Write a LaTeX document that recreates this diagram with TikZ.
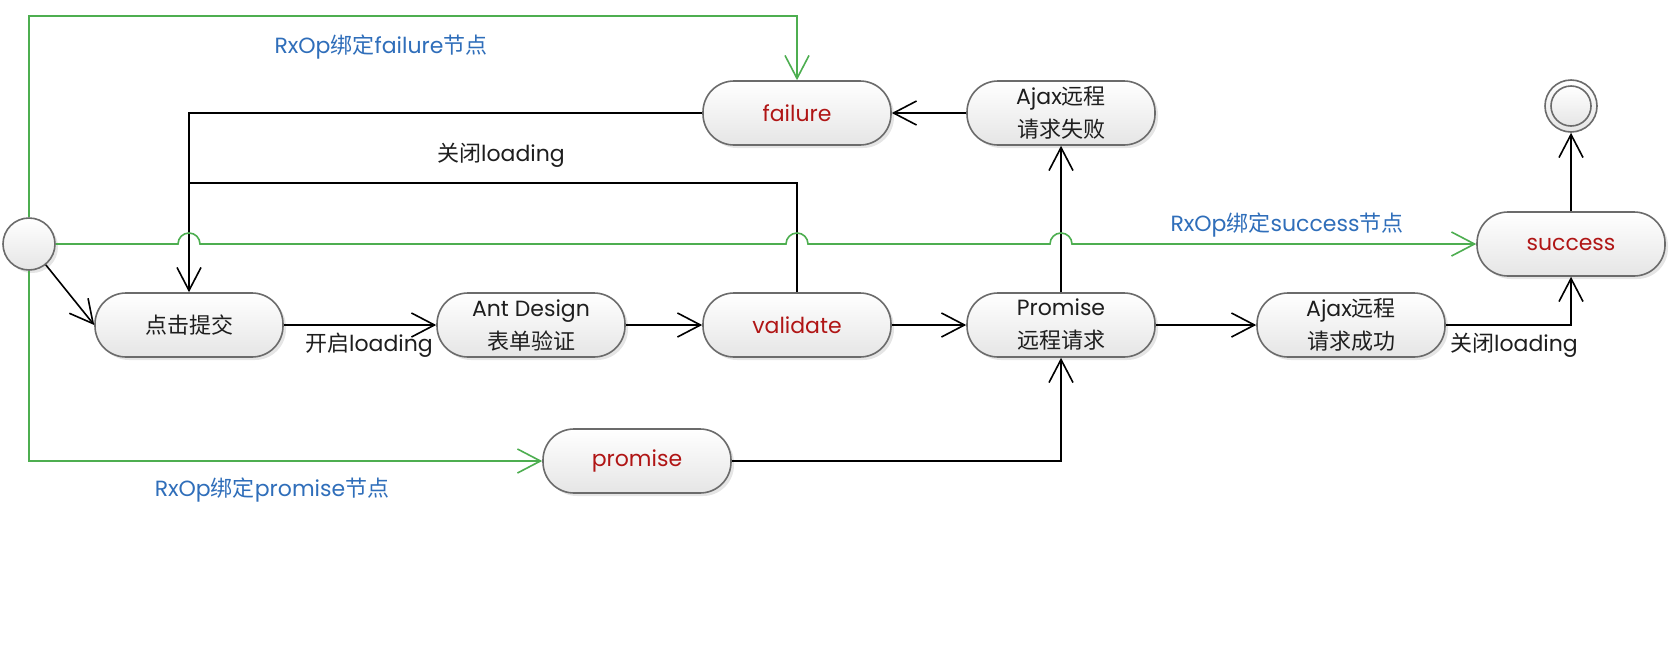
\documentclass[tikz,border=0pt]{standalone}
\usepackage{fontspec}
\setmainfont{Poppins}
\newfontfamily\cjk{Noto Sans CJK SC}
\usetikzlibrary{arrows.meta,shadows,calc}
\definecolor{gline}{HTML}{4DAE50}
\definecolor{btxt}{HTML}{2F6EBA}
\definecolor{rtxt}{HTML}{B01515}
\definecolor{nstroke}{HTML}{6B6B6B}
\definecolor{ktxt}{HTML}{1E1E1E}
\tikzset{
  statebox/.style={draw=nstroke, line width=1.6pt, rounded corners=31pt,
    minimum width=188pt, minimum height=64pt, top color=white, bottom color=black!10,
    drop shadow={shadow xshift=3pt, shadow yshift=-3pt, opacity=0.10, fill=black},
    align=center, inner sep=0pt, text=ktxt},
  redtxt/.style={text=rtxt},
  bluelbl/.style={text=btxt, inner sep=1pt},
  blacklbl/.style={text=ktxt, inner sep=1pt},
  conn/.style={draw=black, line width=1.6pt, -{Straight Barb[length=23pt,width=24pt]}},
  plainline/.style={draw=black, line width=1.6pt},
  gconn/.style={draw=gline, line width=1.6pt, -{Straight Barb[length=23pt,width=24pt]}},
  roundstate/.style={circle, draw=nstroke, line width=1.6pt, top color=white, bottom color=black!10, inner sep=0pt}
}
\begin{document}
\begin{tikzpicture}[x=1pt,y=1pt,font=\fontsize{22}{33}\selectfont]
\useasboundingbox[fill=white] (0,0) rectangle (1672,-664);

% nodes
\node[roundstate, minimum size=52pt, drop shadow={shadow xshift=3pt, shadow yshift=-3pt, opacity=0.10, fill=black}] (start) at (29,-244) {};
\node[statebox] (click) at (189,-325) {{\cjk 点击提交}};
\node[statebox] (ant) at (531,-325) {Ant Design\\{\cjk 表单验证}};
\node[statebox, redtxt] (validate) at (797,-325) {validate};
\node[statebox] (promreq) at (1061,-325) {Promise\\{\cjk 远程请求}};
\node[statebox] (ajaxok) at (1351,-325) {Ajax{\cjk 远程}\\{\cjk 请求成功}};
\node[statebox, redtxt] (failure) at (797,-113) {failure};
\node[statebox] (ajaxfail) at (1061,-113) {Ajax{\cjk 远程}\\{\cjk 请求失败}};
\node[statebox, redtxt] (success) at (1571,-244) {success};
\node[statebox, redtxt] (promise) at (637,-461) {promise};
\node[roundstate, minimum size=52pt] (endo) at (1571,-106) {};
\node[roundstate, minimum size=40pt] (endi) at (1571,-106) {};

% labels
\node[bluelbl] (lfail) at (381,-47) {RxOp{\cjk 绑定}failure{\cjk 节点}};
\node[blacklbl] (lclose1) at (501,-155) {{\cjk 关闭}loading};
\node[blacklbl] (lopen) at (369,-345) {{\cjk 开启}loading};
\node[bluelbl] (lsucc) at (1287,-225) {RxOp{\cjk 绑定}success{\cjk 节点}};
\node[blacklbl] (lclose2) at (1514,-345) {{\cjk 关闭}loading};
\node[bluelbl] (lprom) at (272,-490) {RxOp{\cjk 绑定}promise{\cjk 节点}};

\coordinate (joinpt) at (189,-183);

% black connectors
\draw[conn] (start) -- (click.west);
\draw[conn] (click) -- (ant);
\draw[conn] (ant) -- (validate);
\draw[conn] (validate) -- (promreq);
\draw[conn] (promreq) -- (ajaxok);
\draw[conn] (ajaxok.east) -| (success.south);
\draw[conn] (success.north) -- (endo.south);
\draw[conn] (promreq.north) -- (ajaxfail.south);
\draw[conn] (ajaxfail.west) -- (failure.east);
\draw[conn] (failure.west) -| (click.north);
\draw[plainline] (validate.north) |- (joinpt);
\draw[conn] (promise.east) -| (promreq.south);

% green connectors
\draw[gconn] (start.north) |- ($(failure.north)+(0,64)$) -- (failure.north);
\draw[gconn] (start.south) |- (promise.west);
\draw[gconn] (start.east)
  -- ($(start.east -| click.north)+(-11pt,0)$) arc[start angle=180,end angle=0,radius=11pt]
  -- ($(start.east -| validate.north)+(-11pt,0)$) arc[start angle=180,end angle=0,radius=11pt]
  -- ($(start.east -| promreq.north)+(-11pt,0)$) arc[start angle=180,end angle=0,radius=11pt]
  -- (success.west);
\end{tikzpicture}
\end{document}
